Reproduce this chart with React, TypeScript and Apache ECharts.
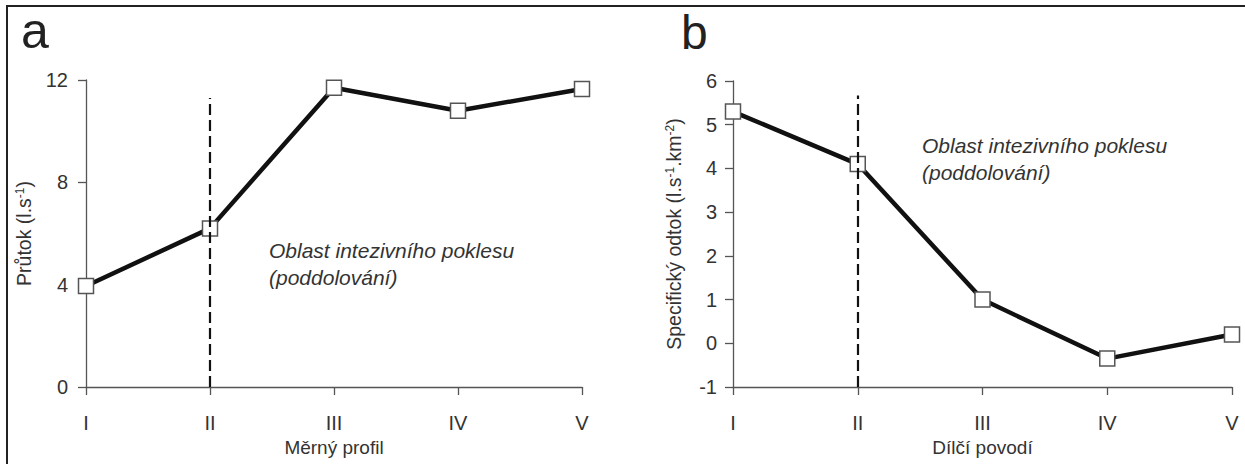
import React, { useEffect, useRef } from "react";
import * as echarts from "echarts";

const categories = ["I", "II", "III", "IV", "V"];
const prutok = [3.95, 6.2, 11.7, 10.8, 11.65];
const odtok = [5.3, 4.1, 1.0, -0.35, 0.2];
const dashA = { cat: "II", from: 0, to: 11.3 };
const dashB = { cat: "II", from: -1, to: 5.67 };
const annotation = "Oblast intezivního poklesu\n(poddolování)";

const FONT = "'Liberation Sans', Arial, sans-serif";
const TXT = "#333";
const AX = "#555";

export default function App() {
  const ref = useRef<HTMLDivElement>(null);
  useEffect(() => {
    document.body.style.margin = "0";
    if (!ref.current) return;
    const chart = echarts.init(ref.current, undefined, { renderer: "svg" });

    const xAxisBase = (gridIndex: number, name: string) => ({
      type: "category",
      gridIndex,
      data: categories,
      boundaryGap: false,
      name,
      nameLocation: "middle",
      nameGap: 51,
      nameTextStyle: { fontSize: 19, color: TXT, fontFamily: FONT },
      axisLine: { onZero: false, lineStyle: { color: AX, width: 1.3 } },
      axisTick: { show: true, length: 8, alignWithLabel: true, lineStyle: { color: AX, width: 1.3 } },
      axisLabel: { margin: 26, fontSize: 20, color: TXT, fontFamily: FONT },
      splitLine: { show: false },
    });

    const supRich = {
      sup: { fontSize: 12, verticalAlign: "top", color: TXT, fontFamily: FONT, padding: [0, 0, 7, 0] },
    };

    const yAxisBase = (gridIndex: number, min: number, max: number, interval: number, name: string, nameGap: number, labelMargin: number) => ({
      type: "value",
      gridIndex,
      min,
      max,
      interval,
      name,
      nameLocation: "middle",
      nameGap,
      nameRotate: 90,
      nameTextStyle: { fontSize: 19.5, color: TXT, fontFamily: FONT, rich: supRich },
      axisLine: { show: true, onZero: false, lineStyle: { color: AX, width: 1.3 } },
      axisTick: { show: true, length: 8, lineStyle: { color: AX, width: 1.3 } },
      axisLabel: { margin: labelMargin, fontSize: 20, color: TXT, fontFamily: FONT },
      splitLine: { show: false },
    });

    const lineSeries = (idx: number, data: number[], dash: { cat: string; from: number; to: number }) => ({
      type: "line",
      xAxisIndex: idx,
      yAxisIndex: idx,
      data,
      symbol: "rect",
      symbolSize: 15,
      lineStyle: { color: "#111", width: 4.5 },
      itemStyle: { color: "#fff", borderColor: "#555", borderWidth: 1.5 },
      z: 3,
      markLine: {
        silent: true,
        symbol: "none",
        label: { show: false },
        lineStyle: { color: "#111", width: 2.2, type: [11, 5] },
        z: 4,
        data: [[{ coord: [dash.cat, dash.from] }, { coord: [dash.cat, dash.to] }]],
      },
    });

    chart.setOption({
      animation: false,
      grid: [
        { left: 86, right: 663, top: 80, bottom: 77 },
        { left: 733, right: 13, top: 81, bottom: 77 },
      ],
      xAxis: [xAxisBase(0, "Měrný profil"), xAxisBase(1, "Dílčí povodí")],
      yAxis: [
        yAxisBase(0, 0, 12, 4, "Průtok (l.s{sup|-1})", 52, 18),
        yAxisBase(1, -1, 6, 1, "Specifický odtok (l.s{sup|-1}.km{sup|-2})", 49, 16),
      ],
      series: [lineSeries(0, prutok, dashA), lineSeries(1, odtok, dashB)],
      graphic: [
        {
          type: "rect",
          shape: { x: 7, y: 6, width: 1300, height: 520 },
          style: { fill: "none", stroke: "#222", lineWidth: 2 },
          silent: true,
        },
        {
          type: "text",
          x: 21,
          y: 56,
          style: { text: "a", fontSize: 50, fill: "#222", fontFamily: FONT, textVerticalAlign: "bottom" },
        },
        {
          type: "text",
          x: 681,
          y: 56,
          style: { text: "b", fontSize: 48, fill: "#222", fontFamily: FONT, textVerticalAlign: "bottom" },
        },
        {
          type: "text",
          x: 269,
          y: 237,
          style: { text: annotation, fontSize: 21, fontStyle: "italic", fill: TXT, fontFamily: FONT, lineHeight: 27 },
        },
        {
          type: "text",
          x: 922,
          y: 132,
          style: { text: annotation, fontSize: 21, fontStyle: "italic", fill: TXT, fontFamily: FONT, lineHeight: 27 },
        },
      ],
    });
    return () => chart.dispose();
  }, []);
  return <div ref={ref} style={{ width: 1245, height: 464 }} />;
}
